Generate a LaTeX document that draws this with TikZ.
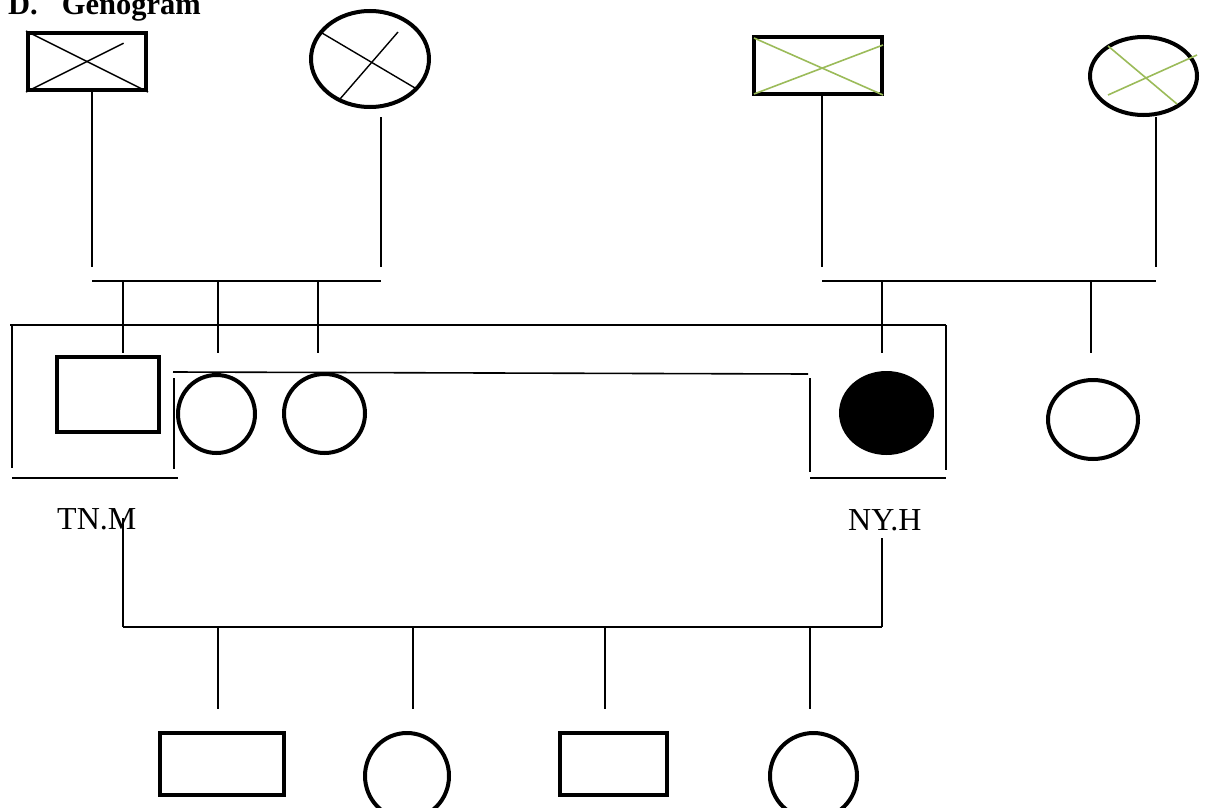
\documentclass[tikz,border=0pt]{standalone}
\usepackage{fontspec}
\setmainfont{Liberation Serif}
\usetikzlibrary{shapes.geometric,calc}
\definecolor{olivegreen}{HTML}{9BBB59}
\begin{document}
\begin{tikzpicture}[x=1pt,y=-1pt,
  thin line/.style={line width=1.6pt},
  male/.style={draw,rectangle,line width=4pt,inner sep=0pt},
  female/.style={draw,ellipse,line width=4pt,inner sep=0pt},
  patient/.style={fill=black,ellipse,inner sep=0pt},
  cross/.style={line width=1.4pt},
  greencross/.style={line width=1.6pt,draw=olivegreen},
  lbl/.style={inner sep=0pt,anchor=base west,font=\fontsize{32}{38}\selectfont}]
\useasboundingbox (0,0) rectangle (1207,808);

% title
\node[inner sep=0pt,anchor=base west,font=\fontsize{30.5}{36}\selectfont\bfseries] (title) at (8,15) {D.\hspace{24pt}Genogram};

% grandparents (left)
\node[male,minimum width=118pt,minimum height=57pt] (gf1) at (87,61.5) {};
\node[female,minimum width=118pt,minimum height=96pt] (gm1) at (370,59) {};
\draw[cross] (gf1.north west) -- (gf1.south east);
\draw[cross] (gf1.south west) -- ($(gf1.south west)!0.8!(gf1.north east)$);
\draw[cross] (322,33) -- (415,88);
\draw[cross] (340,99) -- (398,32);

% grandparents (right)
\node[male,minimum width=128pt,minimum height=57pt] (gf2) at (818,65.5) {};
\node[female,minimum width=107pt,minimum height=78pt] (gm2) at (1143.5,76) {};
\draw[greencross] (754,38) -- (883,95);
\draw[greencross] (754,94) -- (883,45);
\draw[greencross] (1108,46) -- (1177,104);
\draw[greencross] (1108,95) -- (1197,55);

% second generation
\node[male,minimum width=102pt,minimum height=75pt] (tn) at (108,394.5) {};
\node[female,minimum width=77pt,minimum height=78pt] (s1) at (216.5,414) {};
\node[female,minimum width=81pt,minimum height=79pt] (s2) at (324.5,413.5) {};
\node[patient,minimum width=95pt,minimum height=84pt] (ny) at (886.5,413) {};
\node[female,minimum width=90pt,minimum height=79pt] (s3) at (1093,419.5) {};

\node[lbl] (tnl) at (57,529) {TN.M};
\node[lbl] (nyl) at (848,530) {NY.H};

% third generation
\node[male,minimum width=124pt,minimum height=62pt] (c1) at (222,764) {};
\node[female,minimum width=84pt,minimum height=86pt] (c2) at (407,776) {};
\node[male,minimum width=107pt,minimum height=62pt] (c3) at (613.5,764) {};
\node[female,minimum width=87pt,minimum height=86pt] (c4) at (813.5,776) {};

% coordinates of the line work
\coordinate (a1) at (92,267);
\coordinate (a2) at (381,267);
\coordinate (a3) at (822,267);
\coordinate (a4) at (1156,267);
\coordinate (h1) at (92,281);
\coordinate (h2) at (381,281);
\coordinate (h3) at (822,281);
\coordinate (h4) at (1156,281);

\draw[thin line] (gf1.south -| a1) -- (a1);
\draw[thin line] (381,117) -- (a2);
\draw[thin line] (gf2.south -| a3) -- (a3);
\draw[thin line] (1156,117) -- (a4);
\draw[thin line] (h1) -- (h2);
\draw[thin line] (h3) -- (h4);

% sibling drops
\foreach \x in {123,218,318,882,1091}
  \draw[thin line] (\x,281) -- (\x,353);

% marriage frame
\coordinate (m1) at (10,325);
\coordinate (m2) at (946,325);
\draw[thin line] (m1) -- (m2);
\draw[thin line] (12,325) -- (12,468);
\draw[thin line] (m2) -- (946,470);
\draw[thin line] (173,372) -- (808,374);
\draw[thin line] (174,378) -- (174,469);
\draw[thin line] (810,378) -- (810,472);
\draw[line width=2.2pt] (12,478) -- (178,478);
\draw[line width=2.2pt] (810,478) -- (946,478);

% children
\coordinate (k1) at (123,627);
\coordinate (k2) at (882,627);
\draw[thin line] (123,518) -- (k1);
\draw[thin line] (882,538) -- (k2);
\draw[thin line] (k1) -- (k2);
\foreach \x in {218,413,605,810}
  \draw[thin line] (\x,627) -- (\x,709);
\end{tikzpicture}
\end{document}
